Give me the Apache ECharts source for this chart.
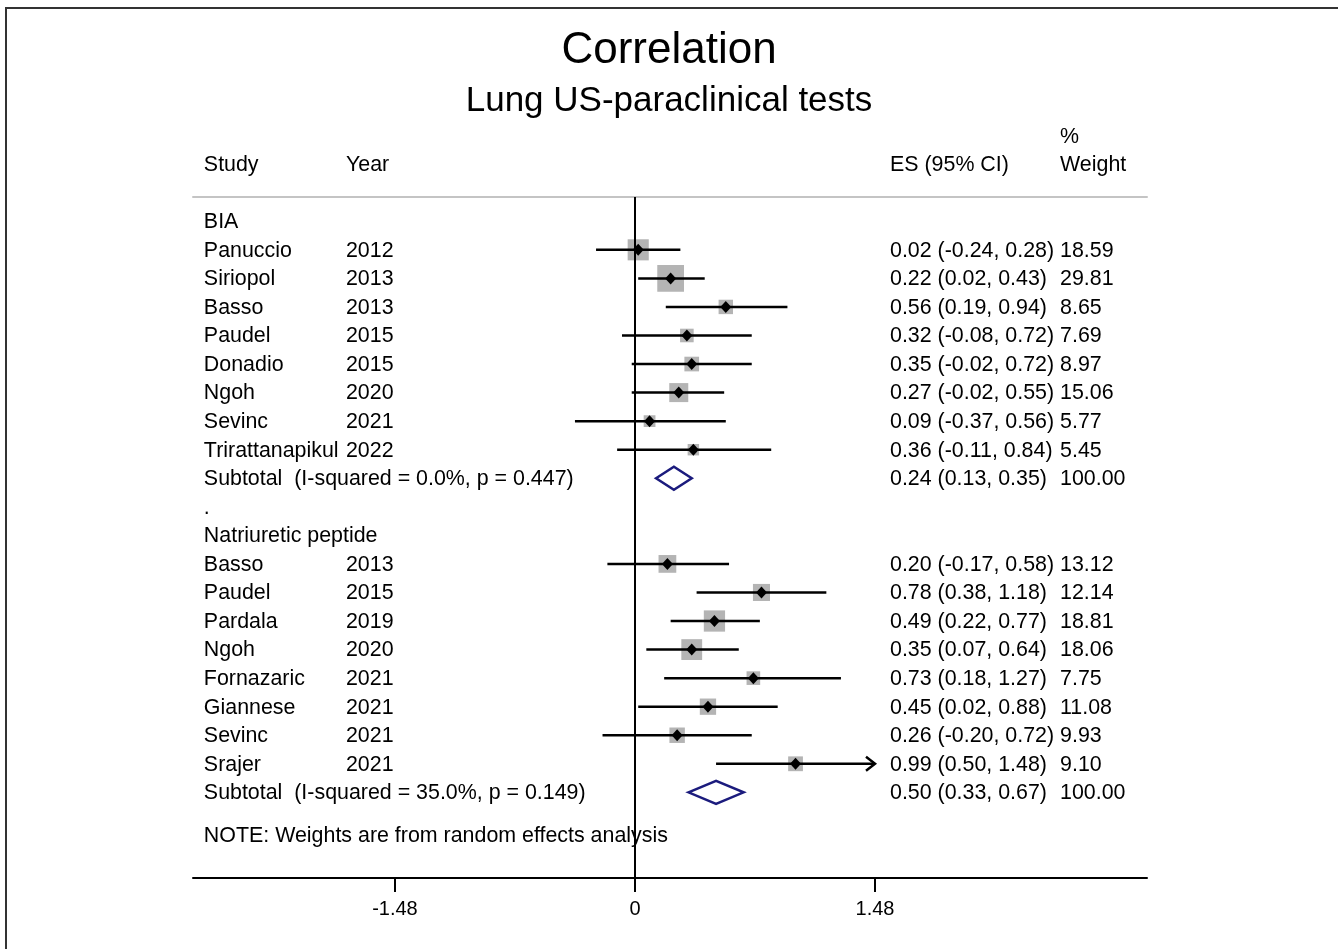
<!DOCTYPE html>
<html><head><meta charset="utf-8">
<script src="https://cdn.jsdelivr.net/npm/echarts@6/dist/echarts.min.js"></script>
<style>html,body{margin:0;padding:0;background:#fff}#c{width:1338px;height:949px}</style>
</head><body><div id="c"></div>
<script>
// ---------- data ----------
const titleText = 'Correlation';
const subtitleText = 'Lung US-paraclinical tests';
const headerStudy = 'Study', headerYear = 'Year', headerES = 'ES (95% CI)', headerPct = '%', headerWeight = 'Weight';
const noteText = 'NOTE: Weights are from random effects analysis';
const xTicks = [-1.48, 0, 1.48];

const biaLabel = 'BIA';
const biaStudies = ['Panuccio','Siriopol','Basso','Paudel','Donadio','Ngoh','Sevinc','Trirattanapikul'];
const biaYears = [2012,2013,2013,2015,2015,2020,2021,2022];
const biaES = [0.02,0.22,0.56,0.32,0.35,0.27,0.09,0.36];
const biaLo = [-0.24,0.02,0.19,-0.08,-0.02,-0.02,-0.37,-0.11];
const biaHi = [0.28,0.43,0.94,0.72,0.72,0.55,0.56,0.84];
const biaW = [18.59,29.81,8.65,7.69,8.97,15.06,5.77,5.45];
const biaSub = [0.24,0.13,0.35];
const biaI2 = 0.0, biaP = 0.447;

const npLabel = 'Natriuretic peptide';
const npStudies = ['Basso','Paudel','Pardala','Ngoh','Fornazaric','Giannese','Sevinc','Srajer'];
const npYears = [2013,2015,2019,2020,2021,2021,2021,2021];
const npES = [0.20,0.78,0.49,0.35,0.73,0.45,0.26,0.99];
const npLo = [-0.17,0.38,0.22,0.07,0.18,0.02,-0.20,0.50];
const npHi = [0.58,1.18,0.77,0.64,1.27,0.88,0.72,1.48];
const npW = [13.12,12.14,18.81,18.06,7.75,11.08,9.93,9.10];
const npSub = [0.50,0.33,0.67];
const npI2 = 35.0, npP = 0.149;

// ---------- layout (positions / styles) ----------
const FONT = '"Liberation Sans", Arial, Helvetica, sans-serif';
const COL = { study: -2.658, year: -1.782, es: 1.5725, weight: 2.621 };
const X_MIN = -2.725, X_MAX = 3.157, Y_MIN = -0.85, Y_MAX = 23;
const BOX_K = 4.9;
const xClip = xTicks[xTicks.length - 1];

// ---------- build rows ----------
const f2 = v => v.toFixed(2);
const ciText = (e, l, h) => f2(e) + ' (' + f2(l) + ', ' + f2(h) + ')';
const textRows = [];   // {r, cells:[[col,text]]}
const studyData = [];  // [r, es, lo, hi, w]
const subData = [];    // [r, es, lo, hi]

textRows.push({ r: -3, cells: [[COL.weight, headerPct]] });
textRows.push({ r: -2, cells: [[COL.study, headerStudy], [COL.year, headerYear], [COL.es, headerES], [COL.weight, headerWeight]] });

let r = 0;
function addGroup(label, studies, years, es, lo, hi, w, sub, i2, p) {
  textRows.push({ r: r, cells: [[COL.study, label]] });
  r++;
  for (let i = 0; i < studies.length; i++) {
    textRows.push({ r: r, cells: [[COL.study, studies[i]], [COL.year, String(years[i])], [COL.es, ciText(es[i], lo[i], hi[i])], [COL.weight, f2(w[i])]] });
    studyData.push([r, es[i], lo[i], hi[i], w[i]]);
    r++;
  }
  textRows.push({ r: r, cells: [[COL.study, 'Subtotal  (I-squared = ' + i2.toFixed(1) + '%, p = ' + p.toFixed(3) + ')'], [COL.es, ciText(sub[0], sub[1], sub[2])], [COL.weight, '100.00']] });
  subData.push([r, sub[0], sub[1], sub[2]]);
  r++;
}
addGroup(biaLabel, biaStudies, biaYears, biaES, biaLo, biaHi, biaW, biaSub, biaI2, biaP);
textRows.push({ r: r, cells: [[COL.study, '.']] });
r++;
addGroup(npLabel, npStudies, npYears, npES, npLo, npHi, npW, npSub, npI2, npP);
textRows.push({ r: r + 0.5, cells: [[COL.study, noteText]] });

// ---------- render ----------
function renderStudy(params, api) {
  const row = api.value(0), es = api.value(1), lo = api.value(2), hi = api.value(3), w = api.value(4);
  const c = api.coord([es, row]);
  const pl = api.coord([lo, row]);
  const ph = api.coord([Math.min(hi, xClip), row]);
  const side = BOX_K * Math.sqrt(w);
  const children = [
    { type: 'rect', shape: { x: c[0] - side / 2, y: c[1] - side / 2, width: side, height: side }, style: { fill: '#b4b4b4' } },
    { type: 'line', shape: { x1: pl[0], y1: pl[1], x2: ph[0], y2: ph[1] }, style: { stroke: '#000', lineWidth: 2.5 } },
    { type: 'polygon', shape: { points: [[c[0] - 5.5, c[1]], [c[0], c[1] - 6], [c[0] + 5.5, c[1]], [c[0], c[1] + 6]] }, style: { fill: '#000' } }
  ];
  if (hi >= xClip) {
    children.push({ type: 'polyline', shape: { points: [[ph[0] - 9, ph[1] - 7], [ph[0], ph[1]], [ph[0] - 9, ph[1] + 7]] }, style: { stroke: '#000', lineWidth: 2.5, fill: 'none' } });
  }
  return { type: 'group', children: children };
}
function renderSub(params, api) {
  const row = api.value(0), es = api.value(1), lo = api.value(2), hi = api.value(3);
  const c = api.coord([es, row]), pl = api.coord([lo, row]), ph = api.coord([hi, row]);
  return { type: 'polygon', shape: { points: [[pl[0], c[1]], [c[0], c[1] - 11.5], [ph[0], c[1]], [c[0], c[1] + 11.5]] },
    style: { stroke: '#1b1b7d', lineWidth: 2.5, fill: null } };
}
function renderText(params, api) {
  const tr = textRows[params.dataIndex];
  return { type: 'group', children: tr.cells.map(cell => {
    const p = api.coord([cell[0], tr.r]);
    return { type: 'text', x: p[0], y: p[1] + 1, style: { text: cell[1], fill: '#000', font: '21.4px ' + FONT, textAlign: 'left', textVerticalAlign: 'middle' } };
  }) };
}

const chart = echarts.init(document.getElementById('c'), null, { renderer: 'canvas' });
chart.setOption({
  backgroundColor: '#fff',
  animation: false,
  title: [
    { text: titleText, left: 'center', top: 29, padding: 0, textStyle: { fontFamily: FONT, fontSize: 44, fontWeight: 'normal', color: '#000', lineHeight: 44 } },
    { text: subtitleText, left: 'center', top: 84, padding: 0, textStyle: { fontFamily: FONT, fontSize: 35, fontWeight: 'normal', color: '#000', lineHeight: 35 } }
  ],
  graphic: [
    { type: 'polyline', shape: { points: [[6, 949], [6, 8], [1338, 8]] }, style: { stroke: '#333', lineWidth: 2, fill: null }, silent: true }
  ],
  grid: { left: 193, right: 191, top: 197, bottom: 71, containLabel: false },
  xAxis: [
    { type: 'value', min: X_MIN, max: X_MAX, position: 'bottom',
      axisLine: { show: true, onZero: false, lineStyle: { color: '#000', width: 2 } },
      axisTick: { show: true, customValues: xTicks, length: 14, inside: false, lineStyle: { color: '#000', width: 2 } },
      axisLabel: { show: true, customValues: xTicks, margin: 21, fontFamily: FONT, fontSize: 20, color: '#000', formatter: v => String(v) },
      splitLine: { show: false } },
    { type: 'value', min: X_MIN, max: X_MAX, position: 'top',
      axisLine: { show: true, onZero: false, lineStyle: { color: '#c4c4c4', width: 2 } },
      axisTick: { show: false }, axisLabel: { show: false }, splitLine: { show: false } }
  ],
  yAxis: { type: 'value', inverse: true, min: Y_MIN, max: Y_MAX, show: false },
  series: [
    { type: 'custom', name: 'studies', renderItem: renderStudy, data: studyData, clip: false, silent: true,
      encode: { x: [1, 2, 3], y: 0 },
      markLine: { silent: true, symbol: ['none', 'none'], label: { show: false },
        lineStyle: { color: '#000', width: 2, type: 'solid' }, data: [{ xAxis: 0 }] } },
    { type: 'custom', name: 'subtotals', renderItem: renderSub, data: subData, clip: false, silent: true, encode: { x: [1, 2, 3], y: 0 } },
    { type: 'custom', name: 'text', renderItem: renderText, data: textRows.map(t => [t.r]), clip: false, silent: true, encode: { y: 0 } }
  ]
});
</script></body></html>
